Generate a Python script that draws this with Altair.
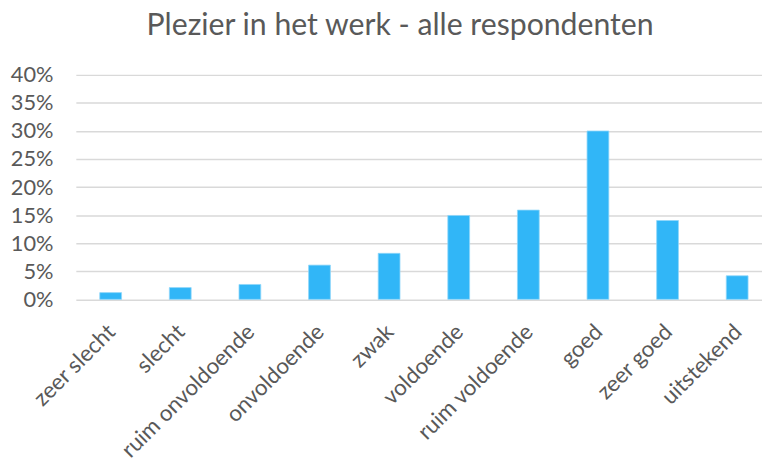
import altair as alt
import pandas as pd

categories = ["zeer slecht", "slecht", "ruim onvoldoende", "onvoldoende", "zwak",
              "voldoende", "ruim voldoende", "goed", "zeer goed", "uitstekend"]
values = [1.2, 2.1, 2.65, 6.1, 8.2, 14.95, 15.9, 30.0, 14.05, 4.2]

df = pd.DataFrame({"cat": categories, "val": [v / 100 for v in values]})

FONT = "Lato"
GRAY = "#595959"

chart = alt.Chart(df).mark_bar(
    color="#31B6F7", stroke="#8FD6FA", strokeWidth=0.8
).encode(
    x=alt.X("cat:N", sort=categories, title=None,
            scale=alt.Scale(paddingInner=0.687, paddingOuter=0.272, align=0.632),
            axis=alt.Axis(labelAngle=-45, labelAlign="right", labelBaseline="middle",
                          labelPadding=29, labelOffset=1, ticks=False, domain=False,
                          labelLimit=400, labelOverlap=False,
                          labelFont=FONT, labelFontSize=22.5, labelColor=GRAY, grid=False)),
    y=alt.Y("val:Q", title=None,
            scale=alt.Scale(domain=[0, 0.4], nice=False),
            axis=alt.Axis(format=".0%", values=[0, 0.05, 0.1, 0.15, 0.2, 0.25, 0.3, 0.35, 0.4],
                          ticks=False, domain=False, labelPadding=23,
                          labelFont=FONT, labelFontSize=22, labelColor=GRAY,
                          gridColor="#D9D9D9", gridWidth=1.5)),
).properties(
    width=693, height=226.7,
    title=alt.TitleParams("Plezier in het werk - alle respondenten", font=FONT, fontSize=30.5,
                          fontWeight="normal", color=GRAY, anchor="middle", frame="group",
                          offset=23, dx=-19, limit=700),
    autosize=alt.AutoSizeParams(type="none"),
    padding={"left": 68.5, "top": 65.3, "right": 0, "bottom": 160},
).configure_view(stroke=None)

chart.save("out.html", embed_options={"renderer": "svg", "actions": False})
